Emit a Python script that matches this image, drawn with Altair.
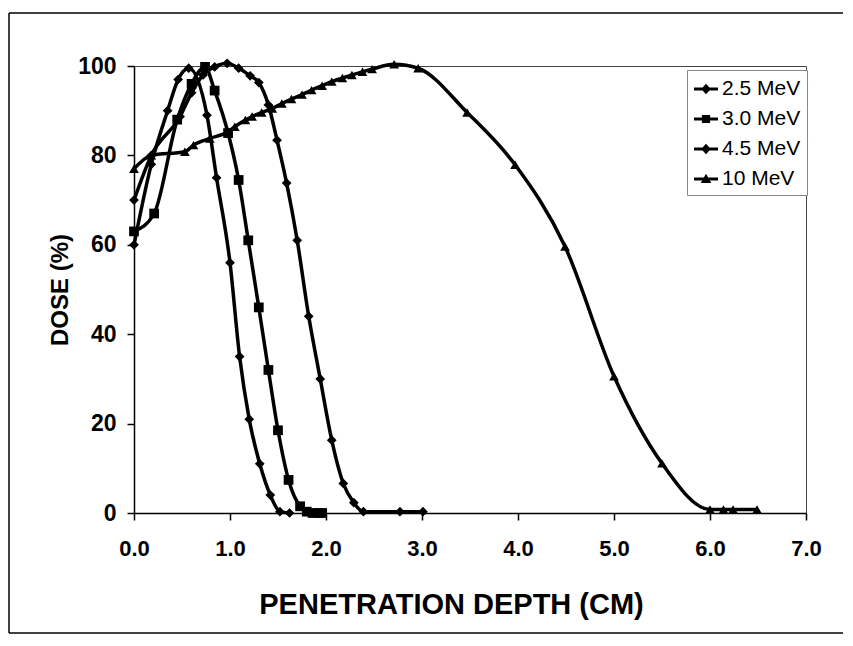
import altair as alt
import pandas as pd

# ---- data ----
series_names = ["2.5 MeV", "3.0 MeV", "4.5 MeV", "10 MeV"]

x_25 = [0.0, 0.18, 0.35, 0.46, 0.57, 0.76, 0.86, 1.0, 1.1, 1.2, 1.31, 1.42, 1.52, 1.62]
y_25 = [60, 78, 90, 97, 99.5, 89, 75, 56, 35, 21, 11, 4, 0.3, 0]

x_30 = [0.0, 0.21, 0.45, 0.6, 0.74, 0.84, 0.98, 1.09, 1.19, 1.30, 1.40, 1.50, 1.61, 1.73, 1.80, 1.86, 1.92, 1.96]
y_30 = [63, 67, 88, 96, 99.8, 94.5, 85, 74.5, 61, 46, 32, 18.5, 7.4, 1.5, 0.3, 0, 0, 0]

x_45 = [0.0, 0.18, 0.48, 0.6, 0.72, 0.84, 0.97, 1.09, 1.21, 1.30, 1.40, 1.49, 1.59, 1.70, 1.82, 1.94, 2.06, 2.18, 2.29, 2.39, 2.77, 3.01]
y_45 = [70, 80, 88.7, 94, 98, 99.8, 100.6, 99.5, 97.8, 96.3, 91.3, 83.4, 73.8, 61, 44, 30, 16.3, 6.6, 2.3, 0.3, 0.3, 0.3]

x_10 = [0.0, 0.18, 0.53, 0.62, 0.79, 0.98, 1.05, 1.16, 1.23, 1.33, 1.44, 1.54, 1.64, 1.75, 1.85, 1.96, 2.06, 2.17, 2.27, 2.38, 2.48, 2.71, 2.96, 3.47, 3.97, 4.49, 5.0, 5.5, 6.0, 6.14, 6.24, 6.49]
y_10 = [77, 80, 80.8, 82.3, 83.8, 85.3, 86.4, 87.9, 88.7, 89.6, 90.5, 91.6, 92.6, 93.6, 94.6, 95.6, 96.5, 97.3, 98, 98.7, 99.3, 100.4, 99.5, 89.6, 77.9, 59.6, 30.6, 11.1, 0.8, 0.8, 0.8, 0.8]

x_ticks = [0, 1, 2, 3, 4, 5, 6, 7]
y_ticks = [0, 20, 40, 60, 80, 100]

rows = []
for name, xs, ys in zip(series_names, [x_25, x_30, x_45, x_10], [y_25, y_30, y_45, y_10]):
    for xv, yv in zip(xs, ys):
        rows.append({"series": name, "depth": xv, "dose": yv})
df = pd.DataFrame(rows)

FONT = "Liberation Sans"

x_scale = alt.Scale(domain=[0, 7], nice=False, zero=False)
y_scale = alt.Scale(domain=[0, 100], nice=False)
x_axis = alt.Axis(
    values=x_ticks, format=".1f", title="PENETRATION DEPTH (CM)",
    labelFont=FONT, labelFontSize=22, labelFontWeight="bold", labelColor="black",
    labelPadding=18, labelFlush=False, tickSize=7, tickWidth=1.5, tickColor="black",
    domainColor="black", domainWidth=1.5, grid=False,
    titleFont=FONT, titleFontSize=29, titleFontWeight="bold", titleColor="black",
    titlePadding=31, titleX=317,
)
y_axis = alt.Axis(
    values=y_ticks, title="DOSE (%)",
    labelFont=FONT, labelFontSize=23, labelFontWeight="bold", labelColor="black",
    labelPadding=11, labelFlush=False, tickSize=7, tickWidth=1.5, tickColor="black",
    domainColor="black", domainWidth=1.5, grid=False,
    titleFont=FONT, titleFontSize=24, titleFontWeight="bold", titleColor="black",
    titlePadding=5,
)
x_enc = alt.X("depth:Q", scale=x_scale, axis=x_axis)
y_enc = alt.Y("dose:Q", scale=y_scale, axis=y_axis)

base = alt.Chart(df)

lines = base.mark_line(color="black", strokeWidth=3.5, interpolate="monotone").encode(
    x=x_enc, y=y_enc, detail="series:N"
)

points = base.mark_point(filled=True, color="black", opacity=1, size=95).encode(
    x=x_enc, y=y_enc,
    shape=alt.Shape("series:N",
                    scale=alt.Scale(domain=series_names,
                                    range=["diamond", "square", "diamond", "triangle-up"]),
                    legend=None),
)

LINE = "M-1,-0.13L1,-0.13L1,0.13L-1,0.13Z"
DIAM = LINE + "M0,-0.44L0.4,0L0,0.44L-0.4,0Z"
SQR = LINE + "M-0.34,-0.34L0.34,-0.34L0.34,0.34L-0.34,0.34Z"
TRI = LINE + "M0,-0.44L0.44,0.34L-0.44,0.34Z"

# legend-only layer: its marks sit outside the plot and are clipped away
legend_pts = base.transform_calculate(hidden="datum.dose + 1000").mark_point(
    filled=True, color="black", opacity=1, clip=True
).encode(
    x=x_enc, y=alt.Y("hidden:Q", scale=y_scale, axis=y_axis),
    shape=alt.Shape("series:N",
                    scale=alt.Scale(domain=series_names, range=[DIAM, SQR, DIAM, TRI]),
                    legend=alt.Legend(
                        title=None, orient="none", legendX=553, legendY=4,
                        labelFont=FONT, labelFontSize=21, labelColor="black",
                        labelOffset=3, symbolSize=576, rowPadding=7,
                        symbolFillColor="black", symbolStrokeColor="black",
                        symbolOpacity=1,
                        strokeColor="#888", padding=6,
                        fillColor="white",
                    )),
)

# outer chart border (top, left, bottom edges; the right edge lies off the page)
one = pd.DataFrame({"k": [0]})
border_top = alt.Chart(one).mark_rule(color="black", strokeWidth=1.5).encode(
    x=alt.value(-125), x2=alt.value(720), y=alt.value(-53)
)
border_left = alt.Chart(one).mark_rule(color="black", strokeWidth=1.5).encode(
    x=alt.value(-125), y=alt.value(-53), y2=alt.value(567)
)
border_bottom = alt.Chart(one).mark_rule(color="black", strokeWidth=1.5).encode(
    x=alt.value(-125), x2=alt.value(720), y=alt.value(567)
)

chart = (
    alt.layer(border_top, border_left, border_bottom, lines, points, legend_pts)
    .resolve_scale(shape="independent")
    .resolve_legend(shape="independent")
    .properties(
        width=672, height=447,
        autosize=alt.AutoSizeParams(type="none"),
        padding={"left": 126, "top": 58, "right": 37, "bottom": 123},
        background="white",
    )
    .configure_view(stroke="#444", strokeWidth=1)
)

chart.save("out.html", embed_options={"renderer": "svg", "actions": False})
